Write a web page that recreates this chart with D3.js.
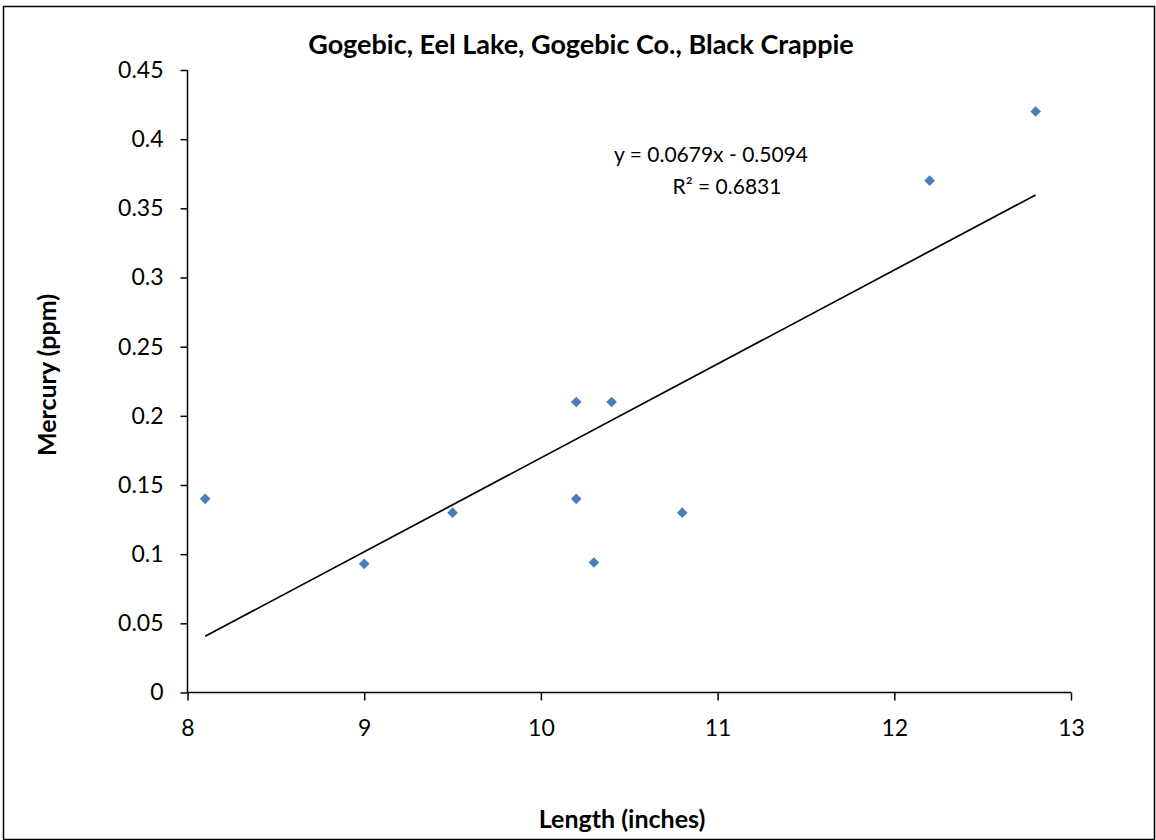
<!DOCTYPE html>
<html><head><meta charset="utf-8">
<script src="https://cdn.jsdelivr.net/npm/d3@7"></script>
<style>body{margin:0;background:#fff}svg{display:block}text{font-family:Lato,"Open Sans",sans-serif}</style>
</head><body>
<script>
const lengths = [8.1, 9.0, 9.5, 10.2, 10.4, 10.2, 10.3, 10.8, 12.2, 12.8];
const mercury = [0.14, 0.093, 0.13, 0.21, 0.21, 0.14, 0.094, 0.13, 0.37, 0.42];
const xTicks = [8, 9, 10, 11, 12, 13];
const yTicks = [0, 0.05, 0.1, 0.15, 0.2, 0.25, 0.3, 0.35, 0.4, 0.45];
const slope = 0.0679, intercept = -0.5094;
const title = "Gogebic, Eel Lake, Gogebic Co., Black Crappie";
const eqText = "y = 0.0679x - 0.5094";
const r2Text = "R² = 0.6831";

const W = 1156, H = 840;
const svg = d3.select("body").append("svg").attr("width", W).attr("height", H);
svg.append("rect").attr("x", 3.5).attr("y", 6.5).attr("width", 1151).attr("height", 833)
  .attr("fill", "#fff").attr("stroke", "#000").attr("stroke-width", 1.5);

const x = d3.scaleLinear().domain([8, 13]).range([187.5, 1071]);
const y = d3.scaleLinear().domain([0, 0.45]).range([692.5, 70]);

const xAxis = svg.append("g").attr("transform", `translate(0,${y(0)})`)
  .call(d3.axisBottom(x).tickValues(xTicks).tickSize(8).tickPadding(19).tickFormat(d3.format("d")));
const yAxis = svg.append("g").attr("transform", `translate(${x(8)},0)`)
  .call(d3.axisLeft(y).tickValues(yTicks).tickSize(7).tickPadding(17).tickFormat(d => d === 0 ? "0" : String(+d.toFixed(2))));
[xAxis, yAxis].forEach(g => {
  g.select(".domain").attr("stroke", "#000").attr("stroke-width", 1.5);
  g.selectAll(".tick line").attr("stroke", "#000").attr("stroke-width", 1.5);
  g.selectAll(".tick text").attr("font-size", 23).attr("fill", "#000").style("font-family", "Lato, 'Open Sans', sans-serif");
});
xAxis.selectAll(".domain").attr("d", `M${x(8)},0H${x(13)}`);
yAxis.selectAll(".domain").attr("d", `M0,${y(0.45)}V${y(0)}`);

const xMin = d3.min(lengths), xMax = d3.max(lengths);
svg.append("line")
  .attr("x1", x(xMin)).attr("y1", y(slope * xMin + intercept))
  .attr("x2", x(xMax)).attr("y2", y(slope * xMax + intercept))
  .attr("stroke", "#000").attr("stroke-width", 1.7);

const pts = lengths.map((d, i) => [d, mercury[i]]);
svg.append("g").selectAll("path").data(pts).join("path")
  .attr("transform", d => `translate(${x(d[0])},${y(d[1])})`)
  .attr("d", d3.symbol(d3.symbolDiamond2, 72))
  .attr("fill", "#4a7ebb");

svg.append("text").attr("x", 581).attr("y", 54).attr("text-anchor", "middle")
  .attr("font-size", 27).attr("font-weight", "bold").text(title);
svg.append("text").attr("x", 711).attr("y", 162).attr("text-anchor", "middle")
  .attr("font-size", 21).text(eqText);
svg.append("text").attr("x", 727).attr("y", 194).attr("text-anchor", "middle")
  .attr("font-size", 21).text(r2Text);
svg.append("text").attr("x", 622).attr("y", 828).attr("text-anchor", "middle")
  .attr("font-size", 25).attr("font-weight", "bold").text("Length (inches)");
svg.append("text").attr("transform", "translate(56,375) rotate(-90)").attr("text-anchor", "middle")
  .attr("font-size", 25).attr("font-weight", "bold").text("Mercury (ppm)");
</script>
</body></html>
